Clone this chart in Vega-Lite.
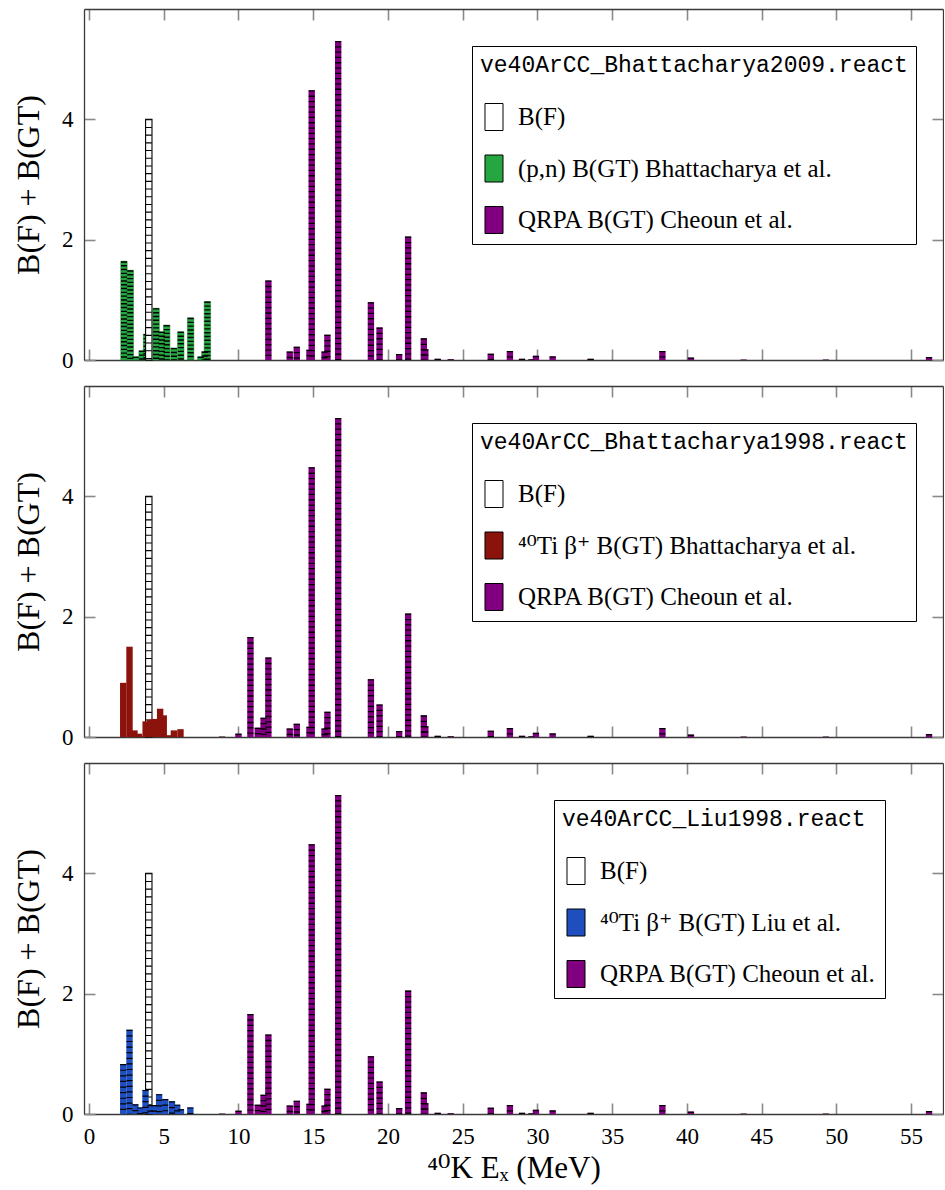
{
  "$schema": "https://vega.github.io/schema/vega-lite/v6.json",
  "background": "white",
  "padding": {"left": 12, "top": 8, "right": 0, "bottom": 5},
  "datasets": {
    "bf": [{"Ex": 4.0, "B": 4.0}],
    "qrpa": [
      {"Ex": 8.9, "B": 0.005}, {"Ex": 10.0, "B": 0.055}, {"Ex": 10.8, "B": 1.66},
      {"Ex": 11.29, "B": 0.155}, {"Ex": 11.68, "B": 0.32}, {"Ex": 12.0, "B": 1.32},
      {"Ex": 13.43, "B": 0.14}, {"Ex": 13.9, "B": 0.22}, {"Ex": 14.75, "B": 0.17},
      {"Ex": 14.9, "B": 4.48}, {"Ex": 15.76, "B": 0.14}, {"Ex": 15.95, "B": 0.42},
      {"Ex": 16.67, "B": 5.3}, {"Ex": 18.86, "B": 0.96}, {"Ex": 19.44, "B": 0.54},
      {"Ex": 20.75, "B": 0.1}, {"Ex": 21.35, "B": 2.05}, {"Ex": 22.5, "B": 0.18},
      {"Ex": 22.4, "B": 0.36}, {"Ex": 23.33, "B": 0.02}, {"Ex": 24.2, "B": 0.01},
      {"Ex": 26.88, "B": 0.105}, {"Ex": 28.16, "B": 0.15}, {"Ex": 28.97, "B": 0.02},
      {"Ex": 29.6, "B": 0.01}, {"Ex": 29.9, "B": 0.07}, {"Ex": 31.02, "B": 0.06},
      {"Ex": 33.56, "B": 0.02}, {"Ex": 38.36, "B": 0.15}, {"Ex": 40.27, "B": 0.04},
      {"Ex": 43.8, "B": 0.005}, {"Ex": 49.3, "B": 0.005}, {"Ex": 56.2, "B": 0.05}
    ],
    "bhatt09": [
      {"Ex": 2.34, "B": 1.64}, {"Ex": 2.76, "B": 1.49}, {"Ex": 3.12, "B": 0.055},
      {"Ex": 3.55, "B": 0.155}, {"Ex": 3.85, "B": 0.43}, {"Ex": 4.49, "B": 0.86},
      {"Ex": 4.88, "B": 0.47}, {"Ex": 5.2, "B": 0.58}, {"Ex": 5.68, "B": 0.2},
      {"Ex": 6.14, "B": 0.47}, {"Ex": 6.8, "B": 0.7}, {"Ex": 7.48, "B": 0.055},
      {"Ex": 7.75, "B": 0.14}, {"Ex": 7.92, "B": 0.97}
    ],
    "bhatt98": [
      {"Ex": 2.29, "B": 0.9}, {"Ex": 2.71, "B": 1.5}, {"Ex": 3.04, "B": 0.11},
      {"Ex": 3.34, "B": 0.055}, {"Ex": 3.6, "B": 0.01}, {"Ex": 3.79, "B": 0.26},
      {"Ex": 4.1, "B": 0.29}, {"Ex": 4.4, "B": 0.3}, {"Ex": 5.0, "B": 0.36},
      {"Ex": 4.76, "B": 0.47}, {"Ex": 5.3, "B": 0.03}, {"Ex": 5.68, "B": 0.11},
      {"Ex": 6.12, "B": 0.13}
    ],
    "liu98": [
      {"Ex": 2.29, "B": 0.83}, {"Ex": 2.71, "B": 1.4}, {"Ex": 3.1, "B": 0.16},
      {"Ex": 3.4, "B": 0.11}, {"Ex": 3.78, "B": 0.4}, {"Ex": 4.1, "B": 0.15},
      {"Ex": 4.35, "B": 0.15}, {"Ex": 4.69, "B": 0.33}, {"Ex": 5.1, "B": 0.25},
      {"Ex": 6.15, "B": 0.08}, {"Ex": 5.9, "B": 0.155}, {"Ex": 5.55, "B": 0.21},
      {"Ex": 6.78, "B": 0.11}
    ]
  },
  "spacing": 26,
  "bounds": "flush",
  "resolve": {"scale": {"color": "independent"}, "legend": {"color": "independent"}},
  "vconcat": [
    {
      "width": 859, "height": 351,
      "resolve": {"axis": {"x": "independent", "y": "independent"}},
      "layer": [
        {
          "data": {"name": "bhatt09"},
          "mark": {"type": "bar", "width": 6.4, "stroke": "#1d7a2c", "strokeWidth": 0.5},
          "encoding": {
            "x": {"field": "Ex", "type": "quantitative", "scale": {"domain": [0, 56.8], "nice": false, "zero": false},
                  "axis": {"orient": "bottom", "values": [0,5,10,15,20,25,30,35,40,45,50,55], "labels": false, "title": null}},
            "y": {"field": "B", "type": "quantitative", "scale": {"domain": [0, 5.83], "nice": false},
                  "axis": {"orient": "left", "values": [0, 2, 4], "title": "B(F) + B(GT)"}},
            "color": {"datum": "(p,n) B(GT) Bhattacharya et al.",
                      "scale": {"domain": ["B(F)", "(p,n) B(GT) Bhattacharya et al.", "QRPA B(GT) Cheoun et al."], "range": ["#ffffff", "#26a641", "#800080"]},
                      "legend": {"title": "ve40ArCC_Bhattacharya2009.react", "legendX": 388, "legendY": 37}}
          }
        },
        {
          "data": {"name": "bhatt09"},
          "mark": {"type": "rule", "strokeWidth": 6, "color": "black", "strokeDash": [1.4, 2.4], "strokeCap": "butt"},
          "encoding": {
            "x": {"field": "Ex", "type": "quantitative", "axis": null},
            "y": {"field": "B", "type": "quantitative", "axis": null},
            "y2": {"datum": 0}
          }
        },
        {
          "data": {"name": "qrpa"},
          "transform": [{"filter": "datum.Ex >= 11.9"}],
          "mark": {"type": "bar", "width": 6.4},
          "encoding": {
            "x": {"field": "Ex", "type": "quantitative",
                  "axis": {"orient": "top", "values": [0,5,10,15,20,25,30,35,40,45,50,55], "labels": false, "title": null}},
            "y": {"field": "B", "type": "quantitative",
                  "axis": {"orient": "right", "values": [0, 2, 4], "labels": false, "title": null}},
            "color": {"datum": "QRPA B(GT) Cheoun et al."}
          }
        },
        {
          "data": {"name": "qrpa"},
          "transform": [{"filter": "datum.Ex >= 11.9"}],
          "mark": {"type": "rule", "strokeWidth": 6, "color": "black", "strokeDash": [1.3, 4], "strokeCap": "butt"},
          "encoding": {
            "x": {"field": "Ex", "type": "quantitative", "axis": null},
            "y": {"field": "B", "type": "quantitative", "axis": null},
            "y2": {"datum": 0}
          }
        },
        {
          "data": {"name": "bf"},
          "mark": {"type": "bar", "width": 6.4, "stroke": "black", "strokeWidth": 1.1},
          "encoding": {
            "x": {"field": "Ex", "type": "quantitative", "axis": null},
            "y": {"field": "B", "type": "quantitative", "axis": null},
            "color": {"datum": "B(F)"}
          }
        },
        {
          "data": {"name": "bf"},
          "mark": {"type": "rule", "strokeWidth": 6, "color": "black", "strokeDash": [1.1, 6.6], "strokeCap": "butt"},
          "encoding": {
            "x": {"field": "Ex", "type": "quantitative", "axis": null},
            "y": {"field": "B", "type": "quantitative", "axis": null},
            "y2": {"datum": 0}
          }
        }
      ]
    },
    {
      "width": 859, "height": 351,
      "resolve": {"axis": {"x": "independent", "y": "independent"}},
      "layer": [
        {
          "data": {"name": "bf"},
          "mark": {"type": "bar", "width": 6.4, "stroke": "black", "strokeWidth": 1.1},
          "encoding": {
            "x": {"field": "Ex", "type": "quantitative", "scale": {"domain": [0, 56.8], "nice": false, "zero": false},
                  "axis": {"orient": "bottom", "values": [0,5,10,15,20,25,30,35,40,45,50,55], "labels": false, "title": null}},
            "y": {"field": "B", "type": "quantitative", "scale": {"domain": [0, 5.83], "nice": false},
                  "axis": {"orient": "left", "values": [0, 2, 4], "title": "B(F) + B(GT)"}},
            "color": {"datum": "B(F)",
                      "scale": {"domain": ["B(F)", "⁴⁰Ti β⁺ B(GT) Bhattacharya et al.", "QRPA B(GT) Cheoun et al."], "range": ["#ffffff", "#8b130b", "#800080"]},
                      "legend": {"title": "ve40ArCC_Bhattacharya1998.react", "legendX": 388, "legendY": 37}}
          }
        },
        {
          "data": {"name": "bf"},
          "mark": {"type": "rule", "strokeWidth": 6, "color": "black", "strokeDash": [1.1, 6.6], "strokeCap": "butt"},
          "encoding": {
            "x": {"field": "Ex", "type": "quantitative", "axis": null},
            "y": {"field": "B", "type": "quantitative", "axis": null},
            "y2": {"datum": 0}
          }
        },
        {
          "data": {"name": "bhatt98"},
          "mark": {"type": "bar", "width": 6.4},
          "encoding": {
            "x": {"field": "Ex", "type": "quantitative", "axis": null},
            "y": {"field": "B", "type": "quantitative", "axis": null},
            "color": {"datum": "⁴⁰Ti β⁺ B(GT) Bhattacharya et al."}
          }
        },
        {
          "data": {"name": "qrpa"},
          "mark": {"type": "bar", "width": 6.4},
          "encoding": {
            "x": {"field": "Ex", "type": "quantitative",
                  "axis": {"orient": "top", "values": [0,5,10,15,20,25,30,35,40,45,50,55], "labels": false, "title": null}},
            "y": {"field": "B", "type": "quantitative",
                  "axis": {"orient": "right", "values": [0, 2, 4], "labels": false, "title": null}},
            "color": {"datum": "QRPA B(GT) Cheoun et al."}
          }
        },
        {
          "data": {"name": "qrpa"},
          "mark": {"type": "rule", "strokeWidth": 6, "color": "black", "strokeDash": [1.3, 4], "strokeCap": "butt"},
          "encoding": {
            "x": {"field": "Ex", "type": "quantitative", "axis": null},
            "y": {"field": "B", "type": "quantitative", "axis": null},
            "y2": {"datum": 0}
          }
        }
      ]
    },
    {
      "width": 859, "height": 351,
      "resolve": {"axis": {"x": "independent", "y": "independent"}},
      "layer": [
        {
          "data": {"name": "bf"},
          "mark": {"type": "bar", "width": 6.4, "stroke": "black", "strokeWidth": 1.1},
          "encoding": {
            "x": {"field": "Ex", "type": "quantitative", "scale": {"domain": [0, 56.8], "nice": false, "zero": false},
                  "axis": {"orient": "bottom", "values": [0,5,10,15,20,25,30,35,40,45,50,55], "title": "⁴⁰K Eₓ (MeV)"}},
            "y": {"field": "B", "type": "quantitative", "scale": {"domain": [0, 5.83], "nice": false},
                  "axis": {"orient": "left", "values": [0, 2, 4], "title": "B(F) + B(GT)"}},
            "color": {"datum": "B(F)",
                      "scale": {"domain": ["B(F)", "⁴⁰Ti β⁺ B(GT) Liu et al.", "QRPA B(GT) Cheoun et al."], "range": ["#ffffff", "#1f4fbf", "#800080"]},
                      "legend": {"title": "ve40ArCC_Liu1998.react", "legendX": 470, "legendY": 37}}
          }
        },
        {
          "data": {"name": "bf"},
          "mark": {"type": "rule", "strokeWidth": 6, "color": "black", "strokeDash": [1.1, 6.6], "strokeCap": "butt"},
          "encoding": {
            "x": {"field": "Ex", "type": "quantitative", "axis": null},
            "y": {"field": "B", "type": "quantitative", "axis": null},
            "y2": {"datum": 0}
          }
        },
        {
          "data": {"name": "liu98"},
          "mark": {"type": "bar", "width": 6.4},
          "encoding": {
            "x": {"field": "Ex", "type": "quantitative", "axis": null},
            "y": {"field": "B", "type": "quantitative", "axis": null},
            "color": {"datum": "⁴⁰Ti β⁺ B(GT) Liu et al."}
          }
        },
        {
          "data": {"name": "liu98"},
          "mark": {"type": "rule", "strokeWidth": 6, "color": "black", "strokeDash": [1.2, 4.4], "strokeCap": "butt"},
          "encoding": {
            "x": {"field": "Ex", "type": "quantitative", "axis": null},
            "y": {"field": "B", "type": "quantitative", "axis": null},
            "y2": {"datum": 0}
          }
        },
        {
          "data": {"name": "qrpa"},
          "mark": {"type": "bar", "width": 6.4},
          "encoding": {
            "x": {"field": "Ex", "type": "quantitative",
                  "axis": {"orient": "top", "values": [0,5,10,15,20,25,30,35,40,45,50,55], "labels": false, "title": null}},
            "y": {"field": "B", "type": "quantitative",
                  "axis": {"orient": "right", "values": [0, 2, 4], "labels": false, "title": null}},
            "color": {"datum": "QRPA B(GT) Cheoun et al."}
          }
        },
        {
          "data": {"name": "qrpa"},
          "mark": {"type": "rule", "strokeWidth": 6, "color": "black", "strokeDash": [1.3, 4], "strokeCap": "butt"},
          "encoding": {
            "x": {"field": "Ex", "type": "quantitative", "axis": null},
            "y": {"field": "B", "type": "quantitative", "axis": null},
            "y2": {"datum": 0}
          }
        }
      ]
    }
  ],
  "config": {
    "view": {"stroke": null},
    "font": "Liberation Serif, DejaVu Serif",
    "axis": {
      "grid": false, "domainColor": "#3a3a3a", "domainWidth": 1.3,
      "tickColor": "#8a8a8a", "tickWidth": 1.6, "tickSize": -11,
      "labelFont": "Liberation Serif, DejaVu Serif", "labelFontSize": 23, "labelColor": "black", "labelPadding": 22,
      "titleFont": "Liberation Serif, DejaVu Serif", "titleFontWeight": "normal", "titleColor": "black"
    },
    "axisY": {"titleFontSize": 32, "titlePadding": 16},
    "axisX": {"titleFontSize": 31, "titlePadding": 5},
    "legend": {
      "orient": "none",
      "titleFont": "Liberation Mono", "titleFontSize": 23, "titleFontWeight": "normal", "titleColor": "black",
      "titlePadding": 26, "titleLimit": 0,
      "labelFont": "Liberation Serif, DejaVu Serif", "labelFontSize": 25, "labelColor": "black", "labelLimit": 0, "labelOffset": 10,
      "symbolType": "M-0.667,-1H0.667V1H-0.667Z", "symbolSize": 729,
      "symbolStrokeColor": "black", "symbolStrokeWidth": 1, "symbolOpacity": 1,
      "rowPadding": 19.5, "padding": 8, "strokeColor": "black", "fillColor": "white", "cornerRadius": 0
    }
  }
}
